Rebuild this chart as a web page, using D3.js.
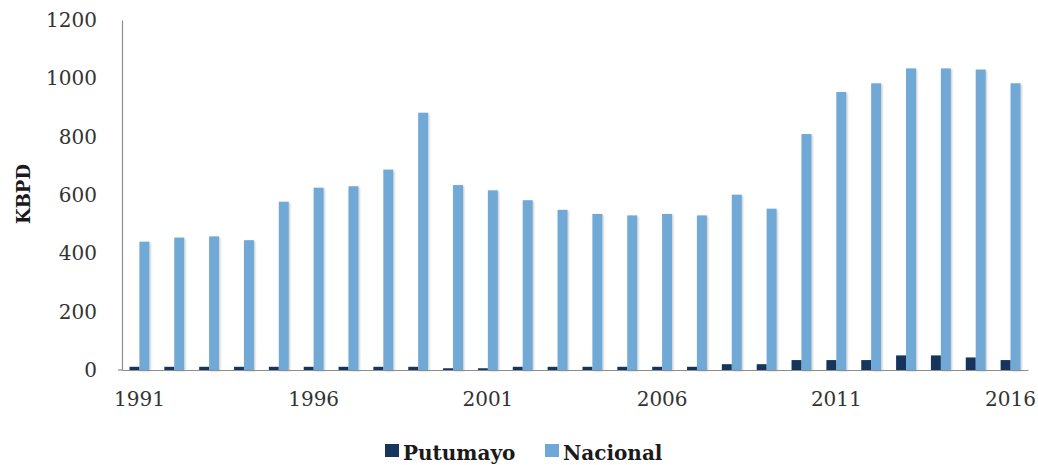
<!DOCTYPE html>
<html>
<head>
<meta charset="utf-8">
<script src="https://cdn.jsdelivr.net/npm/d3@7"></script>
<style>
  html, body { margin: 0; padding: 0; background: #ffffff; }
  svg { display: block; }
</style>
</head>
<body>
<svg id="chart" width="1038" height="465"></svg>
<script>
const years = ["1991","1992","1993","1994","1995","1996","1997","1998","1999","2000","2001","2002","2003","2004","2005","2006","2007","2008","2009","2010","2011","2012","2013","2014","2015","2016"];
const putumayo = [11, 11, 11, 11, 11, 11, 11, 11, 11, 6, 6, 11, 11, 11, 11, 11, 11, 20, 20, 34, 34, 34, 50, 50, 43, 34];
const nacional = [440, 454, 458, 445, 577, 625, 630, 687, 882, 634, 616, 582, 549, 535, 530, 535, 530, 601, 553, 809, 953, 983, 1034, 1034, 1030, 983];
const seriesNames = ["Putumayo", "Nacional"];
const seriesColors = ["#17365d", "#6fa8d6"];
const yTicks = [0, 200, 400, 600, 800, 1000, 1200];
const xTickLabels = ["1991", "1996", "2001", "2006", "2011", "2016"];
const yTitle = "KBPD";

(function () {
const svg = d3.select("#chart");
const mLeft = 122, mRight = 1028, mTop = 20, mBottom = 370;

const x = d3.scaleBand().domain(years).range([mLeft, mRight]).paddingInner(0.43).paddingOuter(0.215);
const xs = d3.scaleBand().domain(seriesNames).range([0, x.bandwidth()]).padding(0);
const y = d3.scaleLinear().domain([0, 1200]).range([mBottom, mTop]);

const data = years.map((yr, i) => ({ year: yr, values: [putumayo[i], nacional[i]] }));

// shadow filter
const defs = svg.append("defs");
const f = defs.append("filter").attr("id", "sh").attr("x", "-30%").attr("y", "-5%").attr("width", "160%").attr("height", "110%");
f.append("feGaussianBlur").attr("in", "SourceAlpha").attr("stdDeviation", 1.2).attr("result", "b");
f.append("feOffset").attr("in", "b").attr("dx", 1.2).attr("dy", 1.2).attr("result", "o");
f.append("feComponentTransfer").attr("in", "o").attr("result", "o2")
  .append("feFuncA").attr("type", "linear").attr("slope", 0.25);
const mg = f.append("feMerge");
mg.append("feMergeNode").attr("in", "o2");
mg.append("feMergeNode").attr("in", "SourceGraphic");

// bars
const g = svg.append("g");
data.forEach(d => {
  d.values.forEach((v, si) => {
    g.append("rect")
      .attr("x", x(d.year) + xs(seriesNames[si]))
      .attr("y", y(v))
      .attr("width", xs.bandwidth())
      .attr("height", y(0) - y(v))
      .attr("fill", seriesColors[si])
      .attr("filter", "url(#sh)");
  });
});

// y axis
const yAxis = d3.axisLeft(y).tickValues(yTicks).tickSize(0).tickPadding(25).tickFormat(d3.format("d"));
const ya = svg.append("g").attr("transform", `translate(${mLeft},0)`).call(yAxis);
ya.select(".domain").attr("stroke", "#8c8c8c").attr("stroke-width", 1.2);
ya.selectAll("text").attr("font-family", "DejaVu Serif").attr("font-size", 20).attr("fill", "#333333");

// left tick at zero
svg.append("line").attr("x1", mLeft - 4).attr("x2", mLeft).attr("y1", mBottom).attr("y2", mBottom).attr("stroke", "#8c8c8c").attr("stroke-width", 1.2);

// x axis
const xAxis = d3.axisBottom(x).tickValues(xTickLabels).tickSize(0).tickPadding(22);
const xa = svg.append("g").attr("transform", `translate(0,${mBottom})`).call(xAxis);
xa.select(".domain").attr("stroke", "#8c8c8c").attr("stroke-width", 1.2);
xa.selectAll("text").attr("font-family", "DejaVu Serif").attr("font-size", 20).attr("fill", "#333333");

// y title
svg.append("text")
  .attr("transform", "translate(30,194) rotate(-90)")
  .attr("text-anchor", "middle")
  .attr("font-family", "DejaVu Serif").attr("font-weight", "bold").attr("font-size", 18)
  .attr("fill", "#1a1a1a")
  .text(yTitle);

// legend
const legendX = [385, 545];
seriesNames.forEach((n, i) => {
  svg.append("rect").attr("x", legendX[i]).attr("y", 444).attr("width", 14).attr("height", 13).attr("fill", seriesColors[i]);
  svg.append("text").attr("x", legendX[i] + 18).attr("y", 460)
    .attr("font-family", "DejaVu Serif").attr("font-weight", "bold").attr("font-size", 20)
    .attr("fill", "#1a1a1a").text(n);
});
})();
</script>
</body>
</html>
